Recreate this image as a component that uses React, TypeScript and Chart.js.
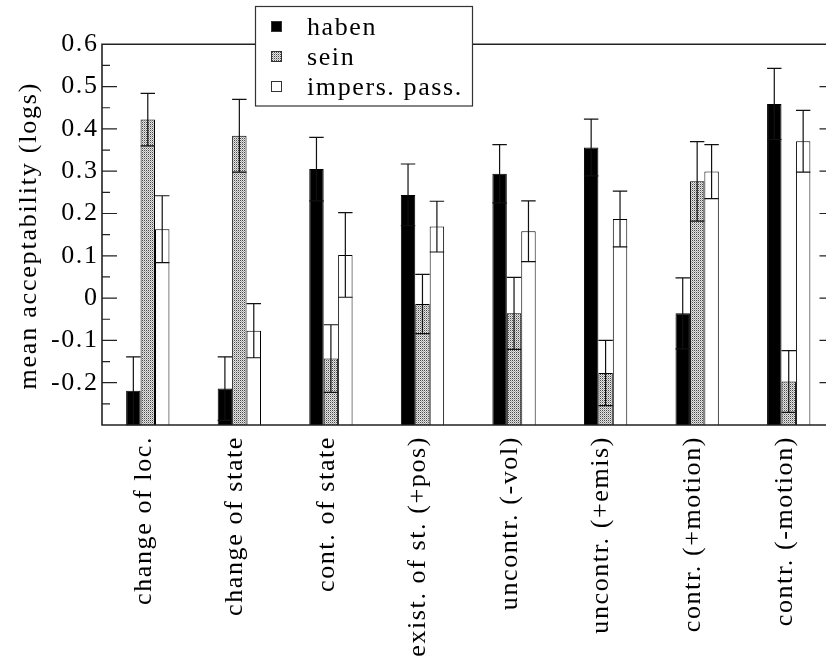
import React, { useEffect, useRef } from 'react';
import { Chart, registerables } from 'chart.js';

Chart.register(...registerables);

const categories = [
  'change of loc.',
  'change of state',
  'cont. of state',
  'exist. of st. (+pos)',
  'uncontr. (-vol)',
  'uncontr. (+emis)',
  'contr. (+motion)',
  'contr. (-motion)',
];

const seriesNames = ['haben', 'sein', 'impers. pass.'];

const haben = [-0.219, -0.214, 0.305, 0.244, 0.294, 0.356, -0.036, 0.459];
const habenErr = [0.080, 0.075, 0.075, 0.073, 0.069, 0.067, 0.084, 0.084];

const sein = [0.422, 0.384, -0.143, -0.014, -0.036, -0.177, 0.276, -0.197];
const seinErr = [0.062, 0.086, 0.080, 0.070, 0.085, 0.077, 0.094, 0.073];

const impers = [0.163, -0.077, 0.102, 0.169, 0.158, 0.187, 0.299, 0.371];
const impersErr = [0.079, 0.064, 0.100, 0.060, 0.072, 0.066, 0.064, 0.073];

const yMin = -0.3;
const yMax = 0.6;
const yStep = 0.1;
const yTitle = 'mean acceptability (logs)';

const FONT = '"Liberation Serif", "Times New Roman", Times, serif';
const FS = 26;
const SPACING = '1.6px';

export default function App() {
  const ref = useRef<HTMLCanvasElement>(null);

  useEffect(() => {
    const canvas = ref.current;
    if (!canvas) return;

    // dotted gray pattern for "sein"
    const pc = document.createElement('canvas');
    pc.width = 4;
    pc.height = 4;
    const p = pc.getContext('2d')!;
    p.fillStyle = '#e4e4e4';
    p.fillRect(0, 0, 4, 4);
    p.fillStyle = '#4a4a4a';
    [[0, 0], [2, 0], [0, 2], [2, 2]].forEach(([x, y]) => p.fillRect(x, y, 1, 1));
    p.fillStyle = '#a8a8a8';
    [[1, 1], [3, 1], [1, 3], [3, 3]].forEach(([x, y]) => p.fillRect(x, y, 1, 1));
    const pattern = canvas.getContext('2d')!.createPattern(pc, 'repeat')!;

    const errs = [habenErr, seinErr, impersErr];
    const fills: any[] = ['#000000', pattern, '#ffffff'];

    const spacingPlugin = {
      id: 'spacing',
      beforeLayout(chart: any) {
        chart.ctx.letterSpacing = SPACING;
      },
      beforeDraw(chart: any) {
        chart.ctx.letterSpacing = SPACING;
      },
    };

    const decoPlugin = {
      id: 'deco',
      afterDatasetsDraw(chart: any) {
        const ctx = chart.ctx as CanvasRenderingContext2D;
        const ys = chart.scales.y;
        const area = chart.chartArea;
        ctx.save();
        // error bars
        ctx.strokeStyle = '#111';
        ctx.lineWidth = 1.2;
        chart.data.datasets.forEach((ds: any, i: number) => {
          const meta = chart.getDatasetMeta(i);
          meta.data.forEach((bar: any, j: number) => {
            const { x, width } = bar.getProps(['x', 'width'], true);
            const v = ds.data[j];
            const e = errs[i][j];
            const y1 = ys.getPixelForValue(v + e);
            const y2 = ys.getPixelForValue(Math.max(v - e, yMin));
            const h = width / 2;
            ctx.beginPath();
            ctx.moveTo(x, y1);
            ctx.lineTo(x, y2);
            ctx.moveTo(x - h, y1);
            ctx.lineTo(x + h, y1);
            ctx.moveTo(x - h, y2);
            ctx.lineTo(x + h, y2);
            ctx.stroke();
          });
        });
        // frame
        ctx.strokeStyle = '#222';
        ctx.lineWidth = 1.6;
        ctx.beginPath();
        ctx.rect(area.left, area.top, area.right - area.left, area.bottom - area.top);
        ctx.stroke();
        // ticks (major & minor), inward, left and right
        ctx.lineWidth = 1.2;
        ctx.beginPath();
        for (let i = -5; i <= 11; i++) {
          const v = i * 0.05;
          const py = ys.getPixelForValue(v);
          const len = i % 2 === 0 ? 15 : 8;
          ctx.moveTo(area.left, py);
          ctx.lineTo(area.left + len, py);
          ctx.moveTo(area.right, py);
          ctx.lineTo(area.right - len, py);
        }
        ctx.stroke();
        ctx.restore();
      },
      afterDraw(chart: any) {
        const ctx = chart.ctx as CanvasRenderingContext2D;
        const area = chart.chartArea;
        ctx.save();
        // y-axis title
        ctx.font = `${FS}px ${FONT}`;
        (ctx as any).letterSpacing = '1.8px';
        ctx.fillStyle = '#000';
        ctx.textAlign = 'center';
        ctx.textBaseline = 'middle';
        ctx.save();
        ctx.translate(29.5, (area.top + area.bottom) / 2 + 1);
        ctx.rotate(-Math.PI / 2);
        ctx.fillText(yTitle, 0, 0);
        ctx.restore();

        // legend box
        const bx = 255.5, by = 6.5, bw = 217, bh = 99.5;
        ctx.fillStyle = '#fff';
        ctx.fillRect(bx, by, bw, bh);
        ctx.strokeStyle = '#333';
        ctx.lineWidth = 1.2;
        ctx.strokeRect(bx, by, bw, bh);
        const rows = [21, 51, 81];
        ctx.font = `${FS}px ${FONT}`;
        ctx.textBaseline = 'alphabetic';
        ctx.textAlign = 'left';
        (ctx as any).letterSpacing = SPACING;
        rows.forEach((ry, i) => {
          ctx.fillStyle = fills[i];
          ctx.fillRect(271.5, ry, 10, 10);
          ctx.strokeStyle = '#333';
          ctx.lineWidth = 1;
          ctx.strokeRect(271.5, ry + 0.5, 10, 10);
          ctx.fillStyle = '#000';
          ctx.fillText(seriesNames[i], 307, ry + 14);
        });
        ctx.restore();
      },
    };

    const chart = new Chart(canvas, {
      type: 'bar',
      data: {
        labels: categories,
        datasets: [haben, sein, impers].map((d, i) => ({
          label: seriesNames[i],
          data: d,
          base: yMin,
          backgroundColor: fills[i],
          borderColor: '#000',
          borderWidth: 1,
          borderSkipped: 'start',
          categoryPercentage: 0.473,
          barPercentage: 1.0,
        })) as any,
      },
      options: {
        animation: false,
        responsive: false,
        devicePixelRatio: 1,
        layout: { padding: { top: 44.3, right: 10.5, left: 0, bottom: 0 } },
        plugins: {
          legend: { display: false },
          tooltip: { enabled: false },
        },
        scales: {
          x: {
            type: 'category',
            offset: true,
            grid: { display: false, drawTicks: false },
            border: { display: false },
            ticks: {
              autoSkip: false,
              maxRotation: 90,
              minRotation: 90,
              padding: 11,
              labelOffset: -4,
              color: '#000',
              font: { family: FONT, size: FS },
            },
            afterFit(scale: any) {
              scale.height = 238;
            },
          },
          y: {
            type: 'linear',
            min: yMin,
            max: yMax,
            grid: { display: false, drawTicks: false },
            border: { display: false },
            ticks: {
              stepSize: yStep,
              padding: 3.5,
              color: '#000',
              font: { family: FONT, size: FS },
              callback: (v: any) => {
                const r = Math.round(Number(v) * 10) / 10;
                if (r < -0.25) return '';
                return String(r === 0 ? 0 : r);
              },
            },
            title: { display: false },
            afterFit(scale: any) {
              scale.width = 102;
            },
          },
        },
      } as any,
      plugins: [spacingPlugin, decoPlugin],
    });

    return () => chart.destroy();
  }, []);

  return (
    <div
      style={{
        position: 'absolute',
        left: 0,
        top: 0,
        width: 826,
        height: 663,
        overflow: 'hidden',
        background: '#fff',
      }}
    >
      <canvas ref={ref} width={845} height={663} style={{ display: 'block' }} />
    </div>
  );
}
